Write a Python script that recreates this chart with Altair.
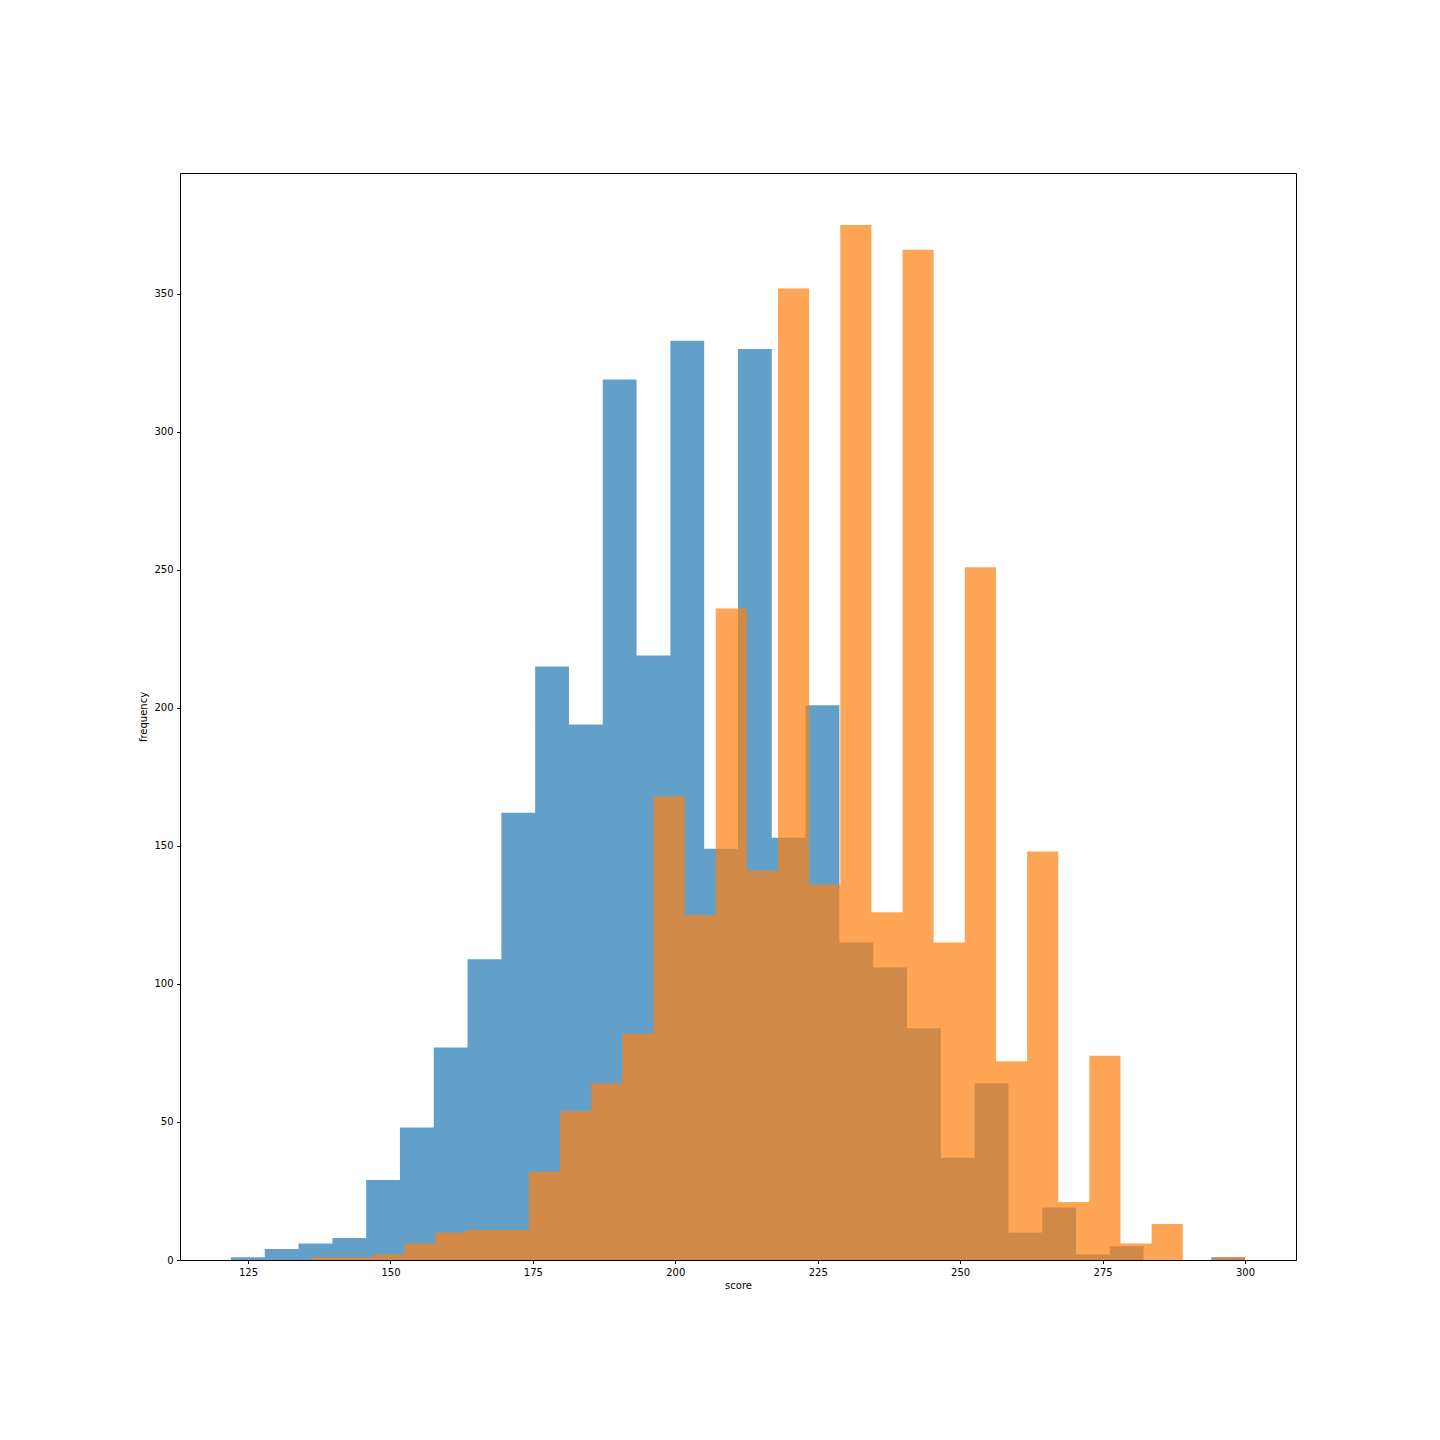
import altair as alt
import numpy as np
import pandas as pd

# Histogram 1 (blue): 30 equal bins between min and max
blue_min = 122.0
blue_max = 300.0
blue_counts = [1, 4, 6, 8, 29, 48, 77, 109, 162, 215, 194, 319, 219, 333, 149,
               330, 153, 201, 115, 106, 84, 37, 64, 10, 19, 2, 5, 0, 0, 1]

# Histogram 2 (orange): 30 equal bins between min and max
orange_min = 136.06
orange_max = 300.0
orange_counts = [1, 1, 2, 6, 10, 11, 11, 32, 54, 64, 82, 168, 125, 236, 141,
                 352, 136, 375, 126, 366, 115, 251, 72, 148, 21, 74, 6, 13, 0, 1]

x_ticks = [125, 150, 175, 200, 225, 250, 275, 300]
y_ticks = [0, 50, 100, 150, 200, 250, 300, 350]


def hist_steps(lo, hi, counts):
    # histogram bin edges (as matplotlib builds them) paired with bar heights;
    # the last edge repeats the last count so the step closes at the edge
    edges = np.linspace(lo, hi, len(counts) + 1)
    heights = list(counts) + [counts[-1]]
    return pd.DataFrame({"x": edges, "count": heights})


blue_df = hist_steps(blue_min, blue_max, blue_counts)
orange_df = hist_steps(orange_min, orange_max, orange_counts)

font = "DejaVu Sans"
x_scale = alt.Scale(domain=[113.06, 308.95], nice=False, zero=False)
y_scale = alt.Scale(domain=[0, 393.8], nice=False)

axis_style = dict(
    grid=False, domainColor="black", domainWidth=1,
    tickColor="black", tickSize=3.5, tickWidth=1,
    labelColor="black", labelFont=font, labelFontSize=10, labelPadding=3.5,
    titleColor="black", titleFont=font, titleFontSize=10, titleFontWeight=400,
)

blue = alt.Chart(blue_df).mark_area(
    interpolate="step-after", opacity=0.7, color="#1f77b4"
).encode(
    x=alt.X("x:Q", title="score", scale=x_scale,
            axis=alt.Axis(values=x_ticks, format="d", titlePadding=3, **axis_style)),
    y=alt.Y("count:Q", title="frequency", scale=y_scale, stack=None,
            axis=alt.Axis(values=y_ticks, format="d", titlePadding=5, **axis_style)),
)

orange = alt.Chart(orange_df).mark_area(
    interpolate="step-after", opacity=0.7, color="#ff7f0e"
).encode(
    x=alt.X("x:Q", scale=x_scale, axis=None),
    y=alt.Y("count:Q", scale=y_scale, stack=None, axis=None),
)

# invisible layer carrying the top and right frame lines as axes
frame = alt.Chart(orange_df).mark_area(opacity=0).encode(
    x=alt.X("x:Q", scale=x_scale,
            axis=alt.Axis(orient="top", labels=False, ticks=False, title=None,
                          grid=False, domainColor="black", domainWidth=1)),
    y=alt.Y("count:Q", scale=y_scale, stack=None,
            axis=alt.Axis(orient="right", labels=False, ticks=False, title=None,
                          grid=False, domainColor="black", domainWidth=1)),
)

chart = alt.layer(blue, orange, frame).resolve_axis(
    x="independent", y="independent"
).properties(
    width=1116,
    height=1087,
    autosize=alt.AutoSizeParams(type="none"),
    padding={"left": 172, "top": 165, "right": 136, "bottom": 172},
).configure_view(
    stroke=None
).configure(background="white")

chart.save("out.html", embed_options={"renderer": "svg", "actions": False})
